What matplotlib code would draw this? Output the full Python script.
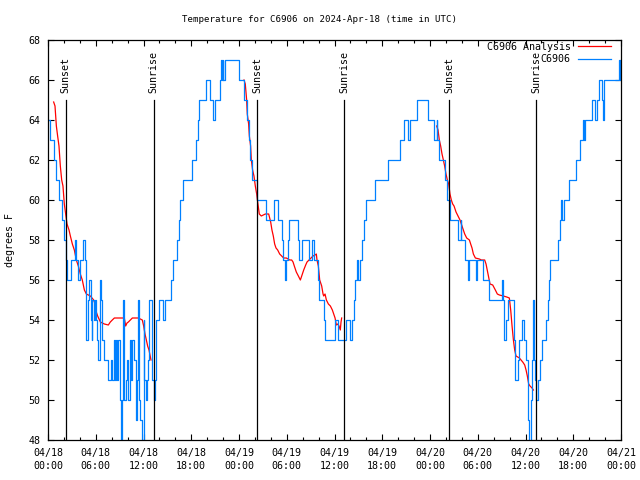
import matplotlib
matplotlib.use('Agg')
import matplotlib.pyplot as plt

# ---------------- data ----------------
# hours since 2024-04-18 00:00 UTC
obs_hours = [0.0, 0.3, 0.7, 1.0, 1.4, 1.7, 2.0, 2.3, 2.4, 2.9,
             3.39, 3.56, 3.73, 3.98, 4.40, 4.65, 4.73, 4.82, 4.98, 5.15,
             5.40, 5.49, 5.57, 5.74, 5.91, 6.07, 6.16, 6.32, 6.49, 6.58,
             6.66, 6.83, 7.08, 7.50, 7.92, 8.08, 8.25, 8.42, 8.59, 8.67,
             8.84, 9.01, 9.17, 9.26, 9.42, 9.51, 9.59, 9.76, 9.93, 10.10,
             10.26, 10.43, 10.60, 10.85, 11.02, 11.18, 11.35, 11.43, 11.60, 11.77,
             11.94, 12.02, 12.11, 12.27, 12.44, 12.52, 12.69, 13.03, 13.11, 13.28,
             13.45, 13.57, 13.90, 14.49, 14.66, 15.50, 15.75, 16.16, 16.42, 16.58,
             17.00, 18.10, 18.60, 18.80, 18.95, 19.80, 20.40, 20.69, 21.02, 21.61,
             21.75, 21.85, 21.95, 22.05, 22.25, 24.05, 24.60, 25.00, 25.20, 25.40,
             25.60, 26.20, 27.35, 28.40, 28.95, 29.40, 29.57, 29.74, 29.95, 30.10,
             30.24, 31.41, 31.58, 31.91, 32.84, 33.17, 33.45, 33.95, 34.05, 34.65,
             34.85, 36.10, 36.50, 37.50, 37.90, 38.20, 38.45, 38.60, 38.85, 39.00,
             39.20, 39.40, 39.70, 40.00, 41.05, 42.75, 44.23, 44.73, 45.24, 45.49,
             46.33, 47.75, 48.50, 48.84, 48.92, 49.17, 49.84, 50.10, 50.55, 51.50,
             51.85, 51.94, 52.40, 52.78, 52.95, 53.78, 53.87, 54.62, 55.38, 57.05,
             57.20, 57.35, 57.60, 57.75, 58.52, 58.69, 59.02, 59.19, 59.60, 59.86,
             60.11, 60.36, 60.45, 60.72, 60.86, 60.95, 61.05, 61.12, 61.20, 61.37,
             61.62, 61.79, 62.12, 62.62, 62.79, 62.96, 63.08, 64.13, 64.30, 64.47,
             64.63, 64.80, 65.47, 66.39, 66.80, 67.23, 67.40, 67.48, 68.40, 68.74,
             68.99, 69.20, 69.58, 69.74, 69.91, 71.70, 71.85, 71.95, 72.00]
obs_temps = [64, 63, 62, 61, 60, 59, 58, 57, 56, 57,
             58, 57, 56, 57, 58, 57, 55, 53, 55, 56,
             54, 53, 55, 54, 55, 54, 53, 52, 55, 56,
             55, 53, 52, 51, 52, 51, 53, 51, 53, 51,
             53, 50, 47, 50, 55, 53, 50, 51, 52, 50,
             53, 51, 53, 52, 49, 51, 55, 50, 49, 48,
             47, 54, 51, 50, 51, 52, 55, 53, 51, 50,
             51, 54, 55, 54, 55, 56, 57, 58, 59, 60,
             61, 62, 63, 64, 65, 66, 65, 64, 65, 66,
             67, 66, 67, 66, 67, 66, 65, 64, 63, 62,
             61, 60, 59, 60, 59, 58, 57, 56, 57, 58,
             59, 58, 57, 58, 57, 58, 57, 56, 55, 54,
             53, 54, 53, 54, 53, 54, 55, 56, 57, 56,
             57, 58, 59, 60, 61, 62, 63, 64, 63, 64,
             65, 64, 63, 64, 63, 62, 61, 60, 59, 58,
             59, 58, 57, 56, 57, 56, 57, 56, 55, 56,
             55, 53, 54, 55, 53, 51, 52, 53, 54, 53,
             52, 49, 47, 50, 52, 55, 54, 52, 51, 50,
             51, 52, 53, 54, 55, 56, 57, 58, 59, 60,
             59, 60, 61, 62, 63, 64, 63, 64, 65, 64,
             65, 66, 65, 64, 66, 67, 66, 67, 67]

ana1_hours = [0.71, 0.88, 1.05, 1.21, 1.38, 1.55, 1.72, 1.88, 2.05, 2.22,
              2.39, 2.64, 2.81, 3.06, 3.31, 3.56, 3.81, 4.06, 4.31, 4.57,
              4.82, 5.07, 5.32, 5.74, 5.91, 6.07, 6.24, 6.58, 7.08, 7.58,
              7.83, 8.08, 8.34, 9.59, 9.76, 9.93, 10.1, 10.35, 10.6, 11.35,
              11.85, 12.02, 12.19, 12.36, 12.52, 12.69, 12.94]
ana1_temps = [64.9, 64.7, 63.7, 63.2, 62.7, 61.7, 61.0, 60.7, 59.8, 59.3,
              58.8, 58.5, 58.2, 57.8, 57.5, 57.0, 56.7, 56.3, 56.0, 55.5,
              55.3, 55.25, 55.2, 55.0, 54.8, 54.4, 54.2, 53.9, 53.8, 53.75,
              53.9, 54.0, 54.1, 54.1, 53.7, 53.85, 53.9, 54.0, 54.1, 54.1,
              54.0, 53.7, 53.3, 53.0, 52.7, 52.5, 52.0]

ana2_hours = [24.63, 24.79, 24.96, 25.04, 25.21, 25.30, 25.46, 25.55, 25.71, 25.88,
              26.05, 26.22, 26.38, 26.55, 26.80, 27.31, 27.73, 27.98, 28.14, 28.31,
              28.48, 28.65, 28.86, 29.11, 29.36, 29.61, 29.95, 30.37, 30.62, 30.79,
              30.95, 31.20, 31.46, 31.71, 31.88, 32.13, 32.38, 32.55, 32.80, 33.05,
              33.30, 33.55, 33.72, 33.80, 33.97, 34.14, 34.39, 34.56, 34.64, 34.81,
              34.98, 35.23, 35.48, 35.73, 35.90, 36.07, 36.23, 36.40, 36.57, 36.73,
              36.82, 36.90]
ana2_temps = [66.0, 65.8, 65.0, 64.3, 63.8, 63.2, 62.7, 62.0, 61.5, 61.2,
              60.7, 60.3, 59.8, 59.3, 59.2, 59.3, 59.3, 58.9, 58.5, 58.2,
              57.8, 57.6, 57.5, 57.3, 57.2, 57.1, 57.1, 57.0, 57.0, 56.9,
              56.7, 56.4, 56.2, 56.0, 56.2, 56.5, 56.75, 56.9, 57.0, 57.1,
              57.2, 57.25, 57.3, 57.0, 56.7, 56.0, 55.7, 55.3, 55.2, 55.3,
              55.0, 54.8, 54.7, 54.5, 54.3, 54.1, 53.75, 53.8, 53.7, 53.5,
              53.9, 54.1]

ana3_hours = [48.84, 49.01, 49.17, 49.34, 49.51, 49.68, 49.84, 50.01, 50.18, 50.35,
              50.51, 50.68, 50.85, 51.02, 51.27, 51.52, 51.77, 52.02, 52.36, 52.61,
              52.95, 53.11, 53.28, 53.45, 53.70, 54.20, 54.45, 54.87, 55.04, 55.29,
              55.54, 55.88, 56.21, 56.46, 56.72, 57.22, 57.64, 57.97, 58.14, 58.31,
              58.48, 58.64, 58.81, 59.23, 59.65, 59.90, 60.07, 60.23, 60.40, 60.57,
              60.82, 60.99]
ana3_temps = [63.7, 63.5, 63.0, 62.7, 62.3, 62.0, 61.7, 61.3, 61.0, 60.8,
              60.3, 60.0, 59.8, 59.7, 59.4, 59.2, 59.0, 58.7, 58.3, 58.1,
              58.0, 57.8, 57.6, 57.3, 57.1, 57.05, 57.0, 57.0, 56.8, 56.3,
              55.8, 55.75, 55.5, 55.3, 55.25, 55.2, 55.15, 55.1, 54.5, 53.7,
              53.0, 52.5, 52.2, 52.1, 51.9, 51.75, 51.5, 51.2, 50.8, 50.7,
              50.6, 50.5]

sunset_hours = [2.22, 26.28, 50.43]
sunrise_hours = [13.28, 37.24, 61.37]

xtick_hours = list(range(0, 73, 6))
xtick_labels = ["04/18\n00:00", "04/18\n06:00", "04/18\n12:00", "04/18\n18:00",
                "04/19\n00:00", "04/19\n06:00", "04/19\n12:00", "04/19\n18:00",
                "04/20\n00:00", "04/20\n06:00", "04/20\n12:00", "04/20\n18:00",
                "04/21\n00:00"]
ytick_vals = list(range(48, 69, 2))

title = "Temperature for C6906 on 2024-Apr-18 (time in UTC)"

# ---------------- plot ----------------
FS = 7.2
plt.rcParams['font.family'] = ['DejaVu Sans Mono']
plt.rcParams['font.size'] = FS

fig = plt.figure(figsize=(6.4, 4.8), dpi=100)
ax = fig.add_axes([48/640, 1-440/480, (621-48)/640, 400/480])

BLUE = '#0080ff'
RED = '#ff0000'
LW = 0.9

ax.plot(ana1_hours, ana1_temps, color=RED, lw=LW, label='C6906 Analysis')
ax.plot(ana2_hours, ana2_temps, color=RED, lw=LW)
ax.plot(ana3_hours, ana3_temps, color=RED, lw=LW)
ax.plot(obs_hours, obs_temps, color=BLUE, lw=LW, drawstyle='steps-post', label='C6906')

for t in sunset_hours:
    ax.plot([t, t], [48, 65], color='black', lw=LW)
    ax.text(t, 65.35, 'Sunset', rotation=90, ha='center', va='bottom', fontsize=FS)
for t in sunrise_hours:
    ax.plot([t, t], [48, 65], color='black', lw=LW)
    ax.text(t, 65.35, 'Sunrise', rotation=90, ha='center', va='bottom', fontsize=FS)

ax.set_xlim(0, 72)
ax.set_ylim(48, 68)
ax.set_xticks(xtick_hours)
ax.set_xticklabels(xtick_labels, linespacing=1.45)
ax.set_xticks(list(range(0, 73, 2)), minor=True)
ax.set_yticks(ytick_vals)
ax.set_yticklabels([str(v) for v in ytick_vals])
ax.tick_params(which='both', direction='in', top=True, right=True, width=0.8, labelsize=FS)
ax.tick_params(which='major', length=4.0)
ax.tick_params(which='minor', length=2.2)
ax.tick_params(axis='x', which='major', pad=5.5)
ax.tick_params(axis='y', which='major', pad=5.5)
for s in ax.spines.values():
    s.set_linewidth(0.9)

leg = ax.legend(loc='upper right', bbox_to_anchor=(0.983, 0.995), frameon=False,
                markerfirst=False, handlelength=3.3, handletextpad=0.75,
                labelspacing=0.25, borderpad=0, borderaxespad=0, fontsize=FS)

fig.text(0.5, 1-20/480, title, ha='center', va='center', fontsize=6.6)
fig.text(10/640, 0.5, 'degrees F', rotation=90, ha='center', va='center', fontsize=FS)

fig.savefig('out.png', dpi=100)
